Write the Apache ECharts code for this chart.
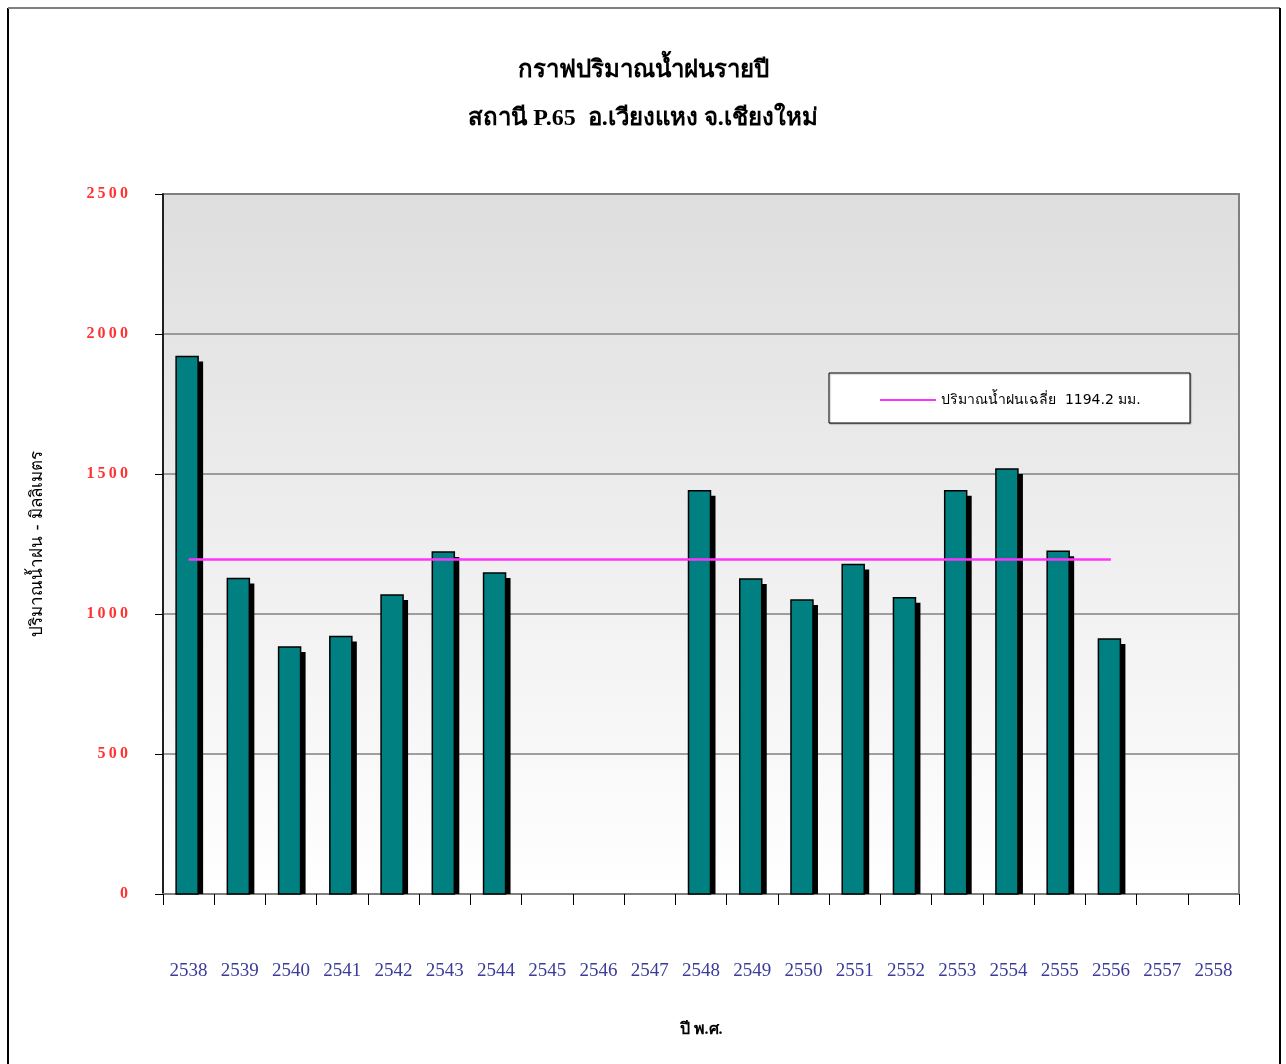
<!DOCTYPE html>
<html>
<head>
<meta charset="utf-8">
<script src="https://cdn.jsdelivr.net/npm/echarts@6/dist/echarts.min.js"></script>
<style>
html,body{margin:0;padding:0;background:#fff;}
#chart{width:1286px;height:1064px;}
</style>
</head>
<body>
<div id="chart"></div>
<script>
const years = ['2538','2539','2540','2541','2542','2543','2544','2545','2546','2547','2548','2549','2550','2551','2552','2553','2554','2555','2556','2557','2558'];
const rainfall = [1920,1127,882,920,1068,1221,1146,null,null,null,1440,1125,1050,1177,1058,1440,1518,1224,911,null,null];
const averageRain = 1194.2;
const averageSpanLastIndex = 18;
const yTicks = [0,500,1000,1500,2000,2500];
const titleText = 'กราฟปริมาณน้ำฝนรายปี\nสถานี P.65  อ.เวียงแหง จ.เชียงใหม่';
const yName = 'ปริมาณน้ำฝน - มิลลิเมตร';
const xName = 'ปี พ.ศ.';
const avgName = 'ปริมาณน้ำฝนเฉลี่ย  1194.2 มม.';

const avgData = years.map((y, i) => i <= averageSpanLastIndex ? averageRain : null);
const barData = [];
rainfall.forEach((v, i) => { if (v !== null) barData.push([i, v]); });

function renderBar(params, api) {
  const top = api.coord([api.value(0), api.value(1)]);
  const base = api.coord([api.value(0), 0]);
  const w = 22;
  const left = top[0] - w / 2 - 1.5;
  const h = base[1] - top[1];
  return {
    type: 'group',
    children: [
      { type: 'rect', shape: { x: left + 5, y: top[1] + 5, width: w, height: h - 5 }, style: { fill: '#000' } },
      { type: 'rect', shape: { x: left, y: top[1], width: w, height: h }, style: { fill: '#008080', stroke: '#000', lineWidth: 1.5 } }
    ]
  };
}

const chart = echarts.init(document.getElementById('chart'));
chart.setOption({
  animation: false,
  backgroundColor: '#ffffff',
  title: {
    text: titleText,
    left: 'center',
    top: 42,
    textStyle: {
      fontFamily: 'Liberation Serif, serif',
      fontSize: 24,
      fontWeight: 'bold',
      color: '#000',
      lineHeight: 48
    }
  },
  graphic: [
    { type: 'polyline', shape: { points: [[8, 1064], [8, 8]] }, style: { stroke: '#000', lineWidth: 2, fill: null } },
    { type: 'polyline', shape: { points: [[8, 8], [1280, 8]] }, style: { stroke: '#808080', lineWidth: 2, fill: null } },
    { type: 'polyline', shape: { points: [[1280, 8], [1280, 1064]] }, style: { stroke: '#000', lineWidth: 2, fill: null } },
    { type: 'rect', shape: { x: 829, y: 373, width: 361, height: 50 }, style: { fill: '#fff', stroke: '#000', lineWidth: 1, shadowColor: 'rgba(0,0,0,0.25)', shadowOffsetX: 1, shadowOffsetY: 1, shadowBlur: 1 }, z: 50 }
  ],
  legend: {
    left: 875,
    top: 388,
    z: 60,
    itemWidth: 56,
    itemHeight: 2,
    itemGap: 6,
    data: [{ name: avgName, icon: 'rect' }],
    textStyle: { fontFamily: 'DejaVu Sans, sans-serif', fontSize: 14, color: '#000' }
  },
  grid: {
    left: 163,
    right: 47,
    top: 194,
    bottom: 170,
    show: true,
    borderColor: '#808080',
    borderWidth: 2,
    backgroundColor: new echarts.graphic.LinearGradient(0, 0, 0, 1, [
      { offset: 0, color: '#dedede' },
      { offset: 1, color: '#ffffff' }
    ])
  },
  xAxis: {
    type: 'category',
    data: years,
    name: xName,
    nameLocation: 'middle',
    nameGap: 128,
    nameTextStyle: { fontFamily: 'Liberation Serif, serif', fontSize: 16, fontWeight: 'bold', color: '#000' },
    axisLine: { lineStyle: { color: '#808080', width: 2 } },
    axisTick: { show: true, length: 11, lineStyle: { color: '#000', width: 1 } },
    axisLabel: { margin: 68, color: '#3b3b9a', fontFamily: 'Liberation Serif, serif', fontSize: 19, interval: 0 },
    splitLine: { show: false }
  },
  yAxis: {
    type: 'value',
    min: 0,
    max: 2500,
    interval: 500,
    name: yName,
    nameLocation: 'middle',
    nameRotate: 90,
    nameGap: 117,
    nameTextStyle: { fontFamily: 'DejaVu Sans, sans-serif', fontSize: 17, color: '#000' },
    axisLine: { show: true, lineStyle: { color: '#000', width: 1.5 } },
    axisTick: { show: true, length: 8, lineStyle: { color: '#000' } },
    axisLabel: {
      margin: 35,
      color: '#ff3333',
      fontFamily: 'Liberation Serif, serif',
      fontSize: 16,
      fontWeight: 'bold',
      formatter: v => yTicks.includes(v) ? String(v).split('').join('\u2009') : ''
    },
    splitLine: { lineStyle: { color: '#808080', width: 1.5 } }
  },
  series: [
    {
      name: 'rain',
      type: 'custom',
      data: barData,
      encode: { x: 0, y: 1 },
      renderItem: renderBar,
      z: 2
    },
    {
      name: avgName,
      type: 'line',
      data: avgData,
      symbol: 'none',
      z: 5,
      lineStyle: { color: '#ff33ff', width: 2.5 },
      itemStyle: { color: '#ff33ff' }
    }
  ]
});
</script>
</body>
</html>
